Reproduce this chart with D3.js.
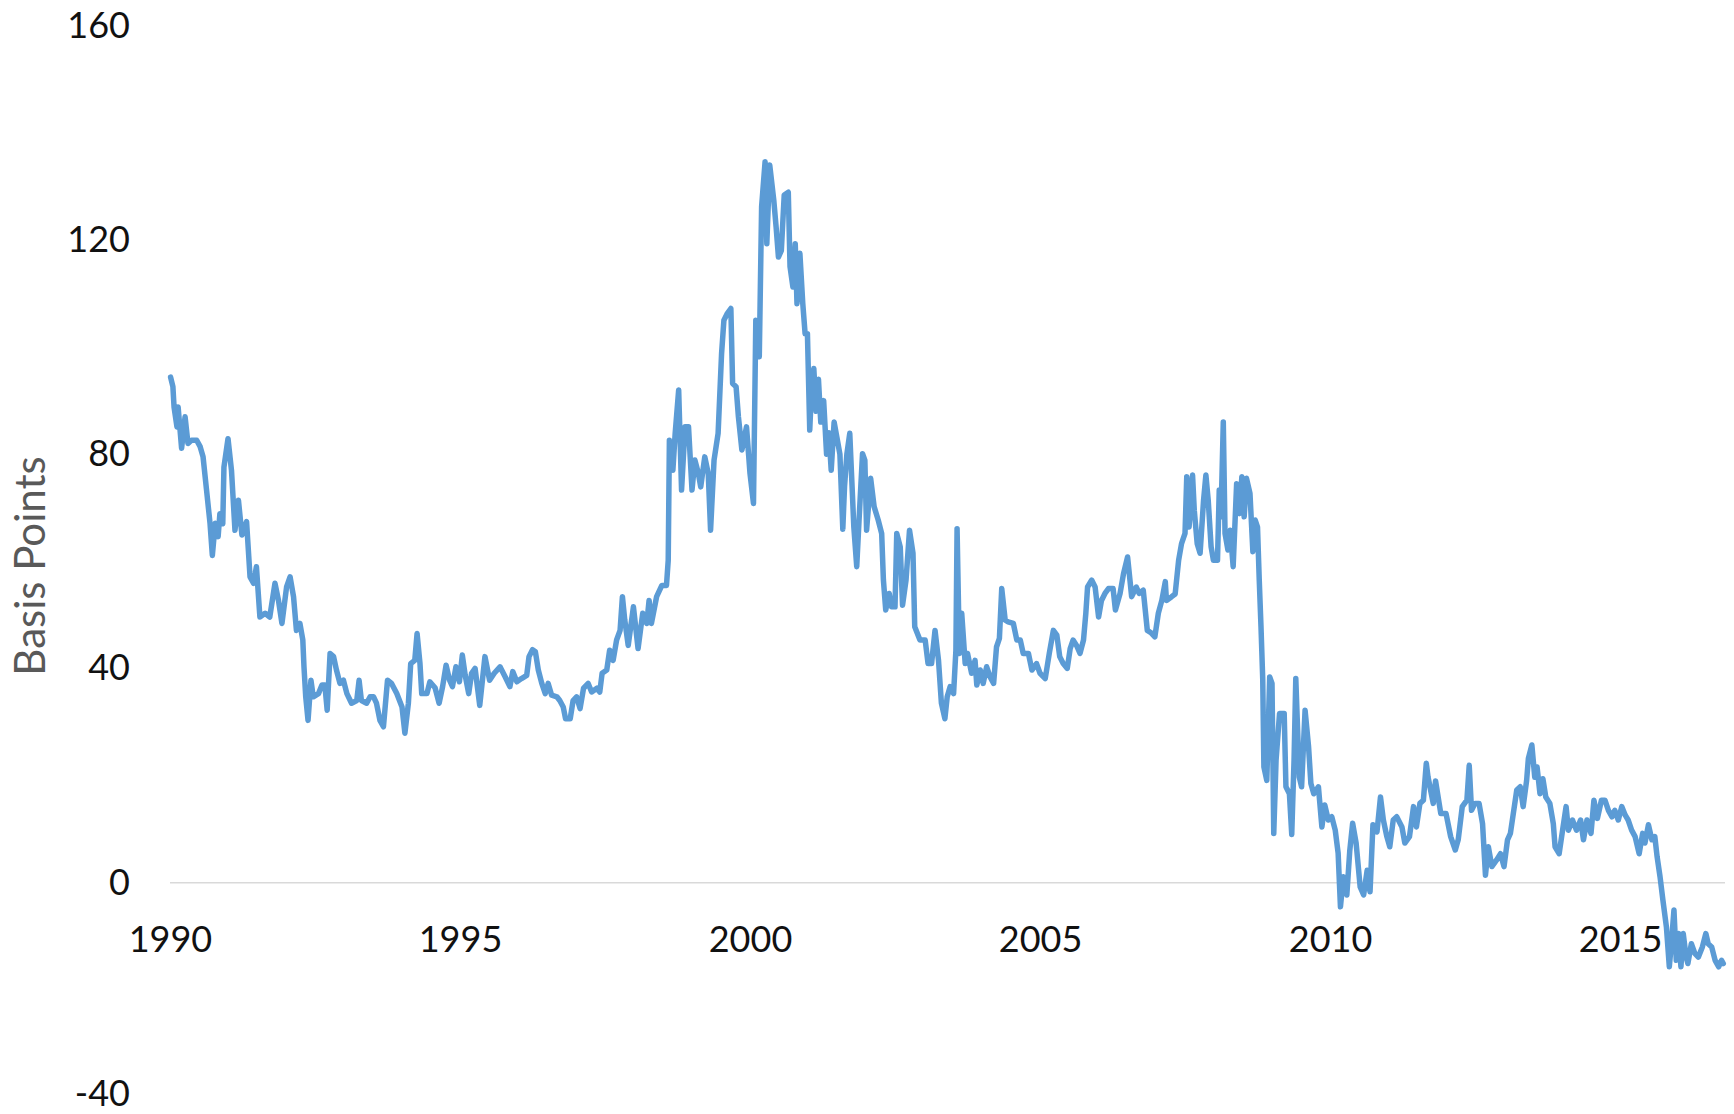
<!DOCTYPE html>
<html>
<head>
<meta charset="utf-8">
<script src="https://cdn.jsdelivr.net/npm/d3@7/dist/d3.min.js"></script>
<style>
  html, body { margin: 0; padding: 0; background: #fff; }
  svg { display: block; }
</style>
</head>
<body>
<svg id="chart" width="1734" height="1114"></svg>
<script>
// Decimal years of observations
const years = [
  1990.01,1990.05,1990.07,1990.12,1990.14,1990.20,1990.26,1990.31,1990.37,1990.46,1990.52,1990.57,1990.63,1990.69,1990.73,1990.78,1990.83,1990.86,1990.91,1990.93,
  1991.00,1991.06,1991.12,1991.18,1991.24,1991.32,1991.38,1991.44,1991.49,1991.55,1991.64,1991.72,1991.81,1991.87,1991.93,
  1992.01,1992.07,1992.13,1992.18,1992.24,1992.29,1992.31,1992.34,1992.38,1992.43,1992.47,1992.56,1992.62,1992.67,1992.71,1992.76,1992.82,1992.87,1992.93,1992.99,
  1993.05,1993.13,1993.22,1993.26,1993.30,1993.39,1993.45,1993.51,1993.56,1993.62,1993.68,1993.75,1993.82,1993.91,
  1994.00,1994.05,1994.11,1994.15,1994.22,1994.26,1994.31,1994.34,1994.43,1994.48,1994.57,1994.64,1994.70,1994.76,1994.82,1994.87,1994.93,1994.99,
  1995.04,1995.09,1995.15,1995.20,1995.26,1995.34,1995.43,1995.51,1995.59,1995.69,1995.78,1995.86,1995.91,1995.98,
  1996.06,1996.15,1996.19,1996.25,1996.30,1996.35,1996.41,1996.47,1996.52,1996.58,1996.67,1996.72,1996.78,1996.82,1996.90,1996.95,
  1997.01,1997.07,1997.13,1997.21,1997.27,1997.36,1997.41,1997.45,1997.53,1997.58,1997.64,1997.70,1997.76,1997.80,1997.84,1997.90,1997.99,
  1998.07,1998.15,1998.22,1998.26,1998.30,1998.39,1998.48,1998.56,1998.59,1998.61,1998.67,1998.71,1998.77,1998.82,1998.88,1998.94,
  1999.00,1999.05,1999.11,1999.15,1999.22,1999.28,1999.32,1999.38,1999.45,1999.51,1999.55,1999.61,1999.67,1999.70,1999.76,1999.80,1999.86,1999.94,
  2000.00,2000.06,2000.10,2000.16,2000.20,2000.26,2000.29,2000.34,2000.41,2000.45,2000.49,2000.54,2000.59,2000.66,2000.69,2000.74,2000.78,2000.81,2000.86,2000.91,2000.95,2000.99,
  2001.03,2001.06,2001.10,2001.14,2001.18,2001.22,2001.27,2001.32,2001.36,2001.40,2001.45,2001.50,2001.55,2001.60,2001.63,2001.67,2001.72,2001.77,2001.79,2001.84,2001.88,2001.94,2001.98,
  2002.01,2002.08,2002.14,2002.21,2002.27,2002.30,2002.34,2002.40,2002.44,2002.50,2002.53,2002.59,2002.63,2002.69,2002.75,2002.81,2002.84,2002.93,
  2003.02,2003.07,2003.13,2003.19,2003.25,2003.30,2003.36,2003.40,2003.45,2003.51,2003.55,2003.57,2003.61,2003.65,2003.71,2003.75,2003.82,2003.88,2003.91,2003.97,
  2004.02,2004.08,2004.14,2004.20,2004.25,2004.30,2004.34,2004.40,2004.45,2004.54,2004.60,2004.66,2004.71,2004.80,2004.86,2004.94,
  2005.00,2005.09,2005.16,2005.23,2005.29,2005.34,2005.40,2005.47,2005.52,2005.57,2005.63,2005.69,2005.75,2005.79,2005.82,2005.89,2005.95,
  2006.01,2006.06,2006.12,2006.18,2006.26,2006.30,2006.38,2006.44,2006.51,2006.58,2006.66,2006.71,2006.78,2006.85,2006.92,2006.98,
  2007.04,2007.10,2007.16,2007.18,2007.27,2007.33,2007.39,2007.44,2007.50,2007.53,2007.57,2007.63,2007.66,2007.71,2007.76,2007.82,2007.86,2007.90,2007.95,2007.99,
  2008.06,2008.09,2008.12,2008.16,2008.19,2008.24,2008.28,2008.33,2008.39,2008.44,2008.48,2008.52,2008.56,2008.62,2008.67,2008.71,2008.75,2008.78,2008.81,2008.84,2008.86,2008.91,2008.96,
  2009.00,2009.03,2009.07,2009.13,2009.21,2009.24,2009.30,2009.34,2009.38,2009.41,2009.47,2009.51,2009.57,2009.63,2009.67,2009.72,2009.80,2009.86,2009.91,2009.97,
  2010.03,2010.09,2010.14,2010.18,2010.23,2010.29,2010.34,2010.39,2010.45,2010.52,2010.58,2010.64,2010.69,2010.74,2010.81,2010.87,2010.92,2010.98,
  2011.03,2011.09,2011.15,2011.24,2011.29,2011.37,2011.44,2011.49,2011.55,2011.61,2011.66,2011.69,2011.78,2011.82,2011.91,2012.00,
  2012.08,2012.16,2012.21,2012.28,2012.36,2012.40,2012.44,2012.50,2012.57,2012.63,2012.68,2012.73,2012.79,2012.87,2012.94,
  2013.00,2013.06,2013.11,2013.16,2013.22,2013.28,2013.33,2013.39,2013.42,2013.48,2013.53,2013.57,2013.62,2013.67,2013.72,2013.79,2013.85,2013.88,2013.95,
  2014.01,2014.07,2014.11,2014.18,2014.25,2014.32,2014.37,2014.43,2014.50,2014.55,2014.61,2014.68,2014.74,2014.80,2014.86,2014.91,2014.97,
  2015.03,2015.09,2015.14,2015.20,2015.26,2015.33,2015.39,2015.43,2015.49,2015.55,2015.60,2015.64,2015.69,2015.74,2015.80,2015.85,2015.89,2015.93,2015.97,
  2016.01,2016.05,2016.09,2016.14,2016.17,2016.23,2016.29,2016.35,2016.42,2016.48,2016.52,2016.58,2016.64,2016.70,2016.75,2016.78
];

// Spread in basis points, one per observation above
const basisPoints = [
  94.4,92.6,88.8,85.1,88.8,81.1,87.0,82.0,82.6,82.6,81.4,79.5,73.3,67.1,61.1,67.1,64.6,68.9,67.0,77.6,
  82.9,77.0,65.8,71.4,64.9,67.4,57.1,55.9,59.0,49.6,50.3,49.6,55.9,52.7,48.4,
  55.2,57.1,53.4,47.1,48.4,45.3,40.3,34.7,30.3,37.8,34.7,35.3,36.9,36.9,32.2,42.8,42.2,39.7,37.2,37.8,
  35.3,33.5,34.0,37.8,34.0,33.5,34.7,34.7,33.5,30.3,29.1,37.8,37.2,35.3,
  32.8,27.9,33.5,40.9,41.5,46.5,40.9,35.3,35.3,37.5,36.4,33.5,36.6,40.6,37.8,36.6,40.3,37.5,
  42.5,38.7,35.3,39.1,40.0,33.1,42.2,37.8,39.1,40.3,38.4,36.6,39.4,37.5,
  38.1,38.7,42.2,43.5,43.1,39.7,37.2,35.3,37.2,35.0,34.7,34.0,32.8,30.6,30.6,34.0,
  34.7,32.5,36.3,37.2,35.6,36.3,35.6,39.1,39.7,43.4,41.5,45.3,47.1,53.4,49.1,44.3,51.5,
  43.7,50.3,48.4,52.7,48.4,53.4,55.5,55.5,60.2,82.6,77.0,83.9,92.0,73.3,85.1,85.1,
  73.3,78.9,76.4,73.9,79.5,76.4,65.8,78.9,83.9,98.8,105.0,106.3,107.2,93.2,92.6,87.0,80.8,85.1,
  76.4,70.8,105.0,98.2,126.2,134.6,119.3,134.0,127.4,122.4,116.8,118.0,128.4,128.9,115.0,111.2,119.3,108.1,117.5,108.1,102.5,102.5,
  84.5,92.0,96.0,88.0,94.0,86.0,90.0,80.0,84.0,77.0,86.0,83.0,80.0,66.0,74.0,80.0,83.9,71.4,66.4,59.0,67.7,80.1,78.9,
  65.8,75.5,70.2,67.7,65.2,56.5,50.9,54.0,51.5,51.5,65.2,62.7,51.8,56.5,65.8,61.5,47.8,45.3,
  45.3,40.9,40.9,47.1,41.5,33.5,30.6,34.7,36.6,35.3,43.4,66.1,42.8,50.3,40.9,42.8,39.1,41.5,36.9,39.7,
  37.2,40.3,38.4,37.2,44.0,45.6,54.9,49.0,48.7,48.4,45.3,45.3,42.8,42.8,39.7,40.9,
  39.1,38.1,42.8,47.1,46.2,42.2,40.9,40.0,43.7,45.3,44.3,42.8,45.3,50.3,55.2,56.5,55.2,
  49.6,52.7,54.0,54.9,54.9,50.9,54.0,57.7,60.8,53.4,55.2,54.0,54.6,47.1,46.6,45.9,
  50.3,52.7,56.2,52.7,53.4,53.9,60.2,63.3,65.2,75.8,66.4,76.1,69.5,63.3,61.5,71.4,76.1,71.4,62.7,60.2,
  60.2,73.3,68.3,86.0,65.2,62.1,65.8,59.0,74.5,68.9,75.8,68.3,75.5,72.7,61.8,67.7,66.4,56.5,47.8,38.0,21.6,19.1,38.4,
  37.2,9.2,22.9,31.6,31.6,17.9,16.6,9.0,22.9,38.1,19.7,17.9,32.2,25.4,18.5,16.6,17.9,10.4,14.5,11.7,
  12.3,9.8,5.5,-4.5,1.1,-2.3,5.9,11.1,7.4,-0.8,-2.3,2.3,-1.7,10.8,9.5,16.0,11.7,8.6,
  6.7,11.7,12.3,10.4,7.4,8.6,14.2,10.4,14.8,15.4,22.3,19.7,14.8,19.0,12.9,12.9,
  8.6,6.1,8.0,14.2,15.4,21.9,13.5,14.8,14.8,11.0,1.4,6.7,3.0,4.2,5.4,
  3.0,8.0,9.2,12.9,17.3,17.9,14.2,19.1,23.2,25.7,19.7,21.6,16.6,19.4,16.0,14.8,11.0,6.7,5.4,
  9.8,14.2,9.8,11.7,9.8,11.7,8.0,11.7,9.2,15.4,12.0,15.4,15.4,13.5,12.3,13.5,11.7,
  14.2,12.6,11.7,9.8,8.6,5.4,9.2,7.4,10.8,8.0,8.6,4.8,1.1,-3.3,-8.3,-15.7,-10.8,-5.1,-14.5,
  -9.5,-15.7,-9.5,-13.9,-15.1,-11.4,-13.2,-13.9,-12.0,-9.5,-11.4,-12.0,-14.5,-15.7,-14.5,-15.1
];

const xTickYears = [1990, 1995, 2000, 2005, 2010, 2015];
const xTickLabels = ["1990", "1995", "2000", "2005", "2010", "2015"];
const yTickValues = [-40, 0, 40, 80, 120, 160];
const yTickLabels = ["-40", "0", "40", "80", "120", "160"];
const yAxisTitle = "Basis Points";

const data = years.map((y, i) => ({ year: y, value: basisPoints[i] }));

const svg = d3.select("#chart");
const plot = { left: 170, right: 1725, top: 25.7, bottom: 1096.9 };

const x = d3.scaleLinear().domain([1990, 2016.81]).range([plot.left, plot.right]);
const y = d3.scaleLinear().domain([-40, 160]).range([plot.bottom, plot.top]);

const font = "Lato, 'Open Sans', sans-serif";

// zero / horizontal axis line
svg.append("line")
  .attr("x1", x(1990)).attr("x2", x(2016.81))
  .attr("y1", y(0)).attr("y2", y(0))
  .attr("stroke", "#d9d9d9").attr("stroke-width", 1.5);

// y axis labels
const yAxis = d3.axisLeft(y).tickValues(yTickValues)
  .tickFormat((d, i) => yTickLabels[i]).tickSize(0).tickPadding(0);
const gy = svg.append("g").attr("transform", "translate(130,0)").call(yAxis);
gy.select(".domain").remove();
gy.selectAll("text")
  .attr("font-family", font).attr("font-size", 36).attr("fill", "#111")
  .attr("dy", d => d === -40 ? "0.24em" : "0.32em");

// x axis labels
const xAxis = d3.axisBottom(x).tickValues(xTickYears)
  .tickFormat((d, i) => xTickLabels[i]).tickSize(0).tickPadding(0);
const gx = svg.append("g").attr("transform", `translate(0,${y(0)})`).call(xAxis);
gx.select(".domain").remove();
gx.selectAll("text")
  .attr("font-family", font).attr("font-size", 36).attr("fill", "#111")
  .attr("dy", null).attr("y", 69);

// y axis title
svg.append("text")
  .attr("transform", "translate(45,566) rotate(-90)")
  .attr("text-anchor", "middle")
  .attr("font-family", font).attr("font-size", 42)
  .attr("fill", "#595959")
  .text(yAxisTitle);

// series line
const line = d3.line().x(d => x(d.year)).y(d => y(d.value));
svg.append("path")
  .datum(data)
  .attr("d", line)
  .attr("fill", "none")
  .attr("stroke", "#5b9bd5")
  .attr("stroke-width", 5.5)
  .attr("stroke-linejoin", "round")
  .attr("stroke-linecap", "round");
</script>
</body>
</html>
